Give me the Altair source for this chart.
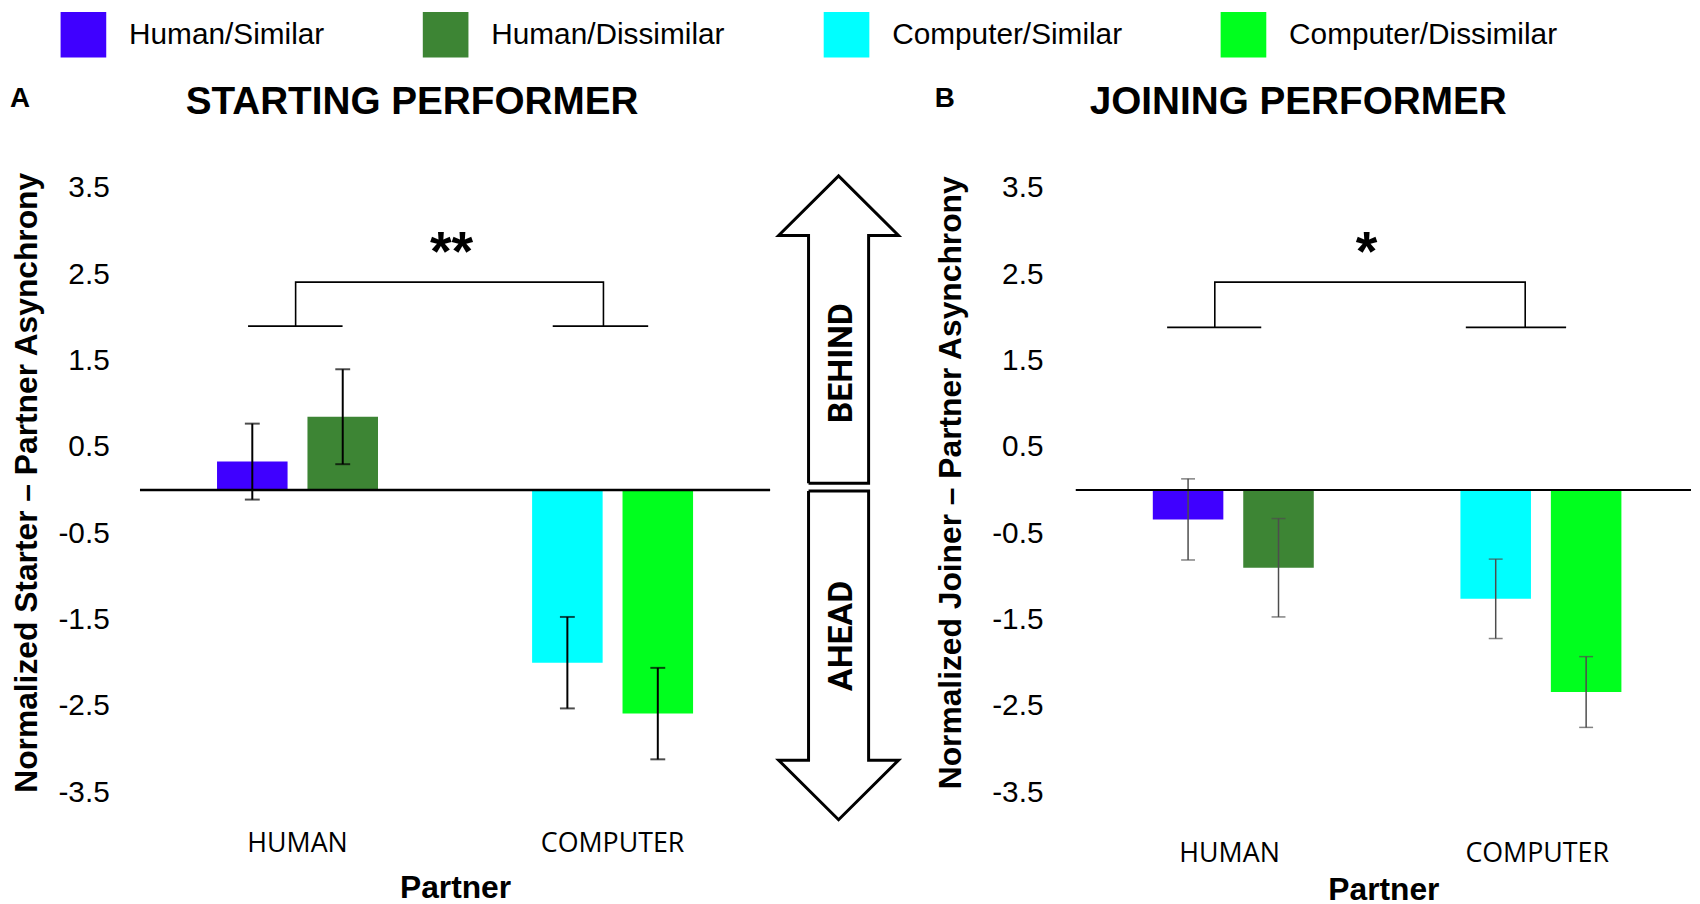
import altair as alt
import pandas as pd

# ---------------- data ----------------
partners = ["HUMAN", "HUMAN", "COMPUTER", "COMPUTER"]
partner_order = ["HUMAN", "COMPUTER"]
similarity = ["Similar", "Dissimilar", "Similar", "Dissimilar"]
sim_order = ["Similar", "Dissimilar"]
conditions = ["Human/Similar", "Human/Dissimilar", "Computer/Similar", "Computer/Dissimilar"]
colors = ["#3F00FF", "#3D8534", "#00FFFF", "#00FF1E"]

starter_mean = [0.33, 0.85, -2.00, -2.59]
starter_err = [0.44, 0.55, 0.53, 0.53]
joiner_mean = [-0.34, -0.90, -1.26, -2.34]
joiner_err = [0.47, 0.57, 0.46, 0.41]

y_ticks = [3.5, 2.5, 1.5, 0.5, -0.5, -1.5, -2.5, -3.5]
Y_DOMAIN = [-3.86, 4.04]
zero_line = [0]

# significance brackets (x in group units: 0.5 = HUMAN centre, 1.5 = COMPUTER centre)
a_bracket_x = [0.494, 0.494, 1.471, 1.471]
a_bracket_y = [1.90, 2.41, 2.41, 1.90]
a_short_x1 = [0.343, 1.310]
a_short_x2 = [0.643, 1.613]
a_short_y = [1.90, 1.90]
a_star_x = [0.989]
a_star_y = [2.55]
a_star_txt = ["**"]

b_bracket_x = [0.452, 0.452, 1.461, 1.461]
b_bracket_y = [1.885, 2.41, 2.41, 1.885]
b_short_x1 = [0.297, 1.268]
b_short_x2 = [0.603, 1.594]
b_short_y = [1.885, 1.885]
b_star_x = [0.945]
b_star_y = [2.55]
b_star_txt = ["*"]

panel_letters = ["A", "B"]
panel_titles = ["STARTING PERFORMER", "JOINING PERFORMER"]
y_titles = ["Normalized Starter \u2013 Partner Asynchrony",
            "Normalized Joiner \u2013 Partner Asynchrony"]
x_title = "Partner"

# central double arrow outline (x in arrow-head half widths, y in data units)
arrow_id = ["up"] * 8 + ["down"] * 8
arrow_order = list(range(8)) + list(range(8))
arrow_x = [-0.496, -0.496, -0.99, 0.0, 0.99, 0.496, 0.496, -0.496,
           -0.496, -0.496, -0.99, 0.0, 0.99, 0.496, 0.496, -0.496]
arrow_y = [0.08, 2.95, 2.95, 3.64, 2.95, 2.95, 0.08, 0.08,
           -0.01, -3.13, -3.13, -3.82, -3.13, -3.13, -0.01, -0.01]
arrow_labels = ["BEHIND", "AHEAD"]
arrow_label_x = [0.05, 0.05]
arrow_label_y = [1.47, -1.69]

PLOT_H = 687
FONT = "Liberation Sans"


def y_enc(field, axis):
    return alt.Y(field, type="quantitative",
                 scale=alt.Scale(domain=Y_DOMAIN, nice=False, zero=False),
                 axis=axis)


def make_panel(means, errs, cfg, legend):
    df = pd.DataFrame({
        "partner": partners, "sim": similarity, "cond": conditions,
        "mean": means,
        "lo": [m - e for m, e in zip(means, errs)],
        "hi": [m + e for m, e in zip(means, errs)],
    })
    yaxis = alt.Axis(
        values=y_ticks,
        labelExpr="datum.value < 0 ? '-' + format(-datum.value, '.1f') : format(datum.value, '.1f')",
        grid=False, domain=False, ticks=False, tickSize=0,
        labelFont=FONT, labelFontSize=30, labelColor="black",
        labelPadding=cfg["ylp"],
        title=cfg["ytitle"], titleFont=FONT, titleFontSize=32,
        titleFontWeight="bold", titleColor="black", titlePadding=cfg["ytp"],
    )
    xenc = alt.X(
        "partner:N", sort=partner_order,
        scale=alt.Scale(paddingInner=0, paddingOuter=0),
        axis=alt.Axis(
            title=x_title, labelAngle=0, labelFont="Open Sans", labelFontSize=27,
            labelColor="black", labelPadding=cfg["xlp"], ticks=False, domain=False,
            titleFont=FONT, titleFontSize=32, titleFontWeight="bold",
            titleColor="black", titlePadding=cfg["xtp"],
        ),
    )
    xoff = alt.XOffset("sim:N", sort=sim_order,
                       scale=alt.Scale(paddingInner=cfg["pi"], paddingOuter=cfg["po"]))
    base = alt.Chart(df)
    bars = base.mark_bar().encode(
        x=xenc, xOffset=xoff, y=y_enc("mean", yaxis), y2=alt.datum(0),
        color=alt.Color("cond:N", scale=alt.Scale(domain=conditions, range=colors),
                        legend=legend),
    )
    err = base.mark_rule(color=cfg["ecol"], strokeWidth=cfg["ew"]).encode(
        x=xenc, xOffset=xoff, y=y_enc("lo", yaxis), y2="hi:Q")
    cap_lo = base.mark_tick(color=cfg["ecol"], thickness=cfg["ew"], size=cfg["cap"],
                            orient="horizontal").encode(
        x=xenc, xOffset=xoff, y=y_enc("lo", yaxis))
    cap_hi = base.mark_tick(color=cfg["ecol"], thickness=cfg["ew"], size=cfg["cap"],
                            orient="horizontal").encode(
        x=xenc, xOffset=xoff, y=y_enc("hi", yaxis))
    zero = alt.Chart(pd.DataFrame({"v": zero_line})).mark_rule(
        color="black", strokeWidth=cfg["zw"]).encode(y=y_enc("v", yaxis))
    letter = alt.Chart(pd.DataFrame({"t": [cfg["letter"]]})).mark_text(
        align="left", baseline="alphabetic", font=FONT, fontSize=28,
        fontWeight="bold", color="black").encode(
        text="t:N", x=alt.value(cfg["lx"]), y=alt.value(-35))
    head = alt.Chart(pd.DataFrame({"h": [cfg["title"]]})).mark_text(
        align="left", baseline="alphabetic", font=FONT, fontSize=39,
        fontWeight="bold", color="black").encode(
        text="h:N", x=alt.value(cfg["tdx"]), y=alt.value(-28))
    main = alt.layer(bars, err, cap_lo, cap_hi, zero, letter, head)

    xq = alt.Scale(domain=[0, 2], nice=False, zero=False)
    br = alt.Chart(pd.DataFrame({"bx": cfg["bx"], "by": cfg["by"],
                                 "o": list(range(len(cfg["bx"])))})).mark_line(
        color="black", strokeWidth=1.6).encode(
        x=alt.X("bx:Q", scale=xq, axis=None), y=y_enc("by", yaxis), order="o:Q")
    sh = alt.Chart(pd.DataFrame({"sx1": cfg["sx1"], "sx2": cfg["sx2"],
                                 "sy": cfg["sy"]})).mark_rule(
        color="black", strokeWidth=1.6).encode(
        x=alt.X("sx1:Q", scale=xq, axis=None), x2="sx2:Q", y=y_enc("sy", yaxis))
    st = alt.Chart(pd.DataFrame({"tx": cfg["tx"], "ty": cfg["ty"],
                                 "txt": cfg["txt"]})).mark_text(
        font=FONT, fontSize=56, fontWeight="bold", baseline="alphabetic",
        color="black").encode(
        x=alt.X("tx:Q", scale=xq, axis=None), y=y_enc("ty", yaxis), text="txt:N")
    anno = alt.layer(br, sh, st)

    return alt.layer(main, anno).resolve_scale(x="independent").properties(
        width=cfg["w"], height=PLOT_H)


legend = alt.Legend(
    title=None, orient="none", legendX=-80, legendY=-130.5, direction="horizontal",
    symbolType="square", symbolSize=2116, symbolStrokeWidth=0, symbolOpacity=1,
    labelFont=FONT, labelFontSize=30, labelColor="black", labelOffset=23,
    columnPadding=99, labelLimit=500,
)

cfg_a = dict(ytitle=y_titles[0], ylp=31, ytp=15, xlp=8, xtp=16, pi=0.22, po=0.852,
             ecol="black", ew=2, cap=15, zw=2.5, letter=panel_letters[0], lx=-131,
             bx=a_bracket_x, by=a_bracket_y, sx1=a_short_x1, sx2=a_short_x2, sy=a_short_y,
             tx=a_star_x, ty=a_star_y, txt=a_star_txt, w=635, title=panel_titles[0], tdx=46)
cfg_b = dict(ytitle=y_titles[1], ylp=33, ytp=24, xlp=18, xtp=8, pi=0.172, po=0.868,
             ecol="#4d4d4d", ew=1.5, cap=14, zw=2, letter=panel_letters[1], lx=-142,
             bx=b_bracket_x, by=b_bracket_y, sx1=b_short_x1, sx2=b_short_x2, sy=b_short_y,
             tx=b_star_x, ty=b_star_y, txt=b_star_txt, w=620, title=panel_titles[1], tdx=14)

panel_a = make_panel(starter_mean, starter_err, cfg_a, legend)
panel_b = make_panel(joiner_mean, joiner_err, cfg_b, legend)

arrow_df = pd.DataFrame({"aid": arrow_id, "ax": arrow_x, "ay": arrow_y, "ord": arrow_order})
ax_scale = alt.Scale(domain=[-1.016, 1.59], nice=False, zero=False)
ay_scale = alt.Scale(domain=Y_DOMAIN, nice=False, zero=False)
arrow_lines = alt.Chart(arrow_df).mark_line(
    color="black", strokeWidth=3, strokeJoin="miter").encode(
    x=alt.X("ax:Q", scale=ax_scale, axis=None),
    y=alt.Y("ay:Q", scale=ay_scale, axis=None),
    detail="aid:N", order="ord:Q")
arrow_text = alt.Chart(pd.DataFrame({"lx": arrow_label_x, "ly": arrow_label_y,
                                     "lt": arrow_labels})).mark_text(
    angle=270, font="Roboto", fontSize=34, fontWeight="bold",
    align="center", baseline="middle", color="black").encode(
    x=alt.X("lx:Q", scale=ax_scale, axis=None),
    y=alt.Y("ly:Q", scale=ay_scale, axis=None),
    text="lt:N")
arrow_chart = alt.layer(arrow_lines, arrow_text).properties(width=159, height=PLOT_H)

chart = alt.hconcat(panel_a, arrow_chart, panel_b, spacing=0).properties(
    padding={"left": 2, "top": 0, "right": 0, "bottom": 0},
    background="white",
).configure(font=FONT).configure_view(stroke=None)

chart.save("out.html", embed_options={"renderer": "svg", "actions": False})
